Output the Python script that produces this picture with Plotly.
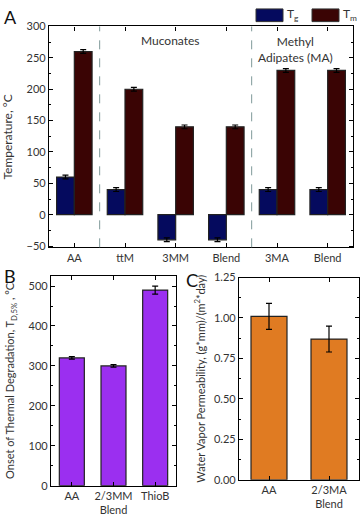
import plotly.graph_objects as go

# ---- Data ----
a_labels = ["AA", "ttM", "3MM", "Blend", "3MA", "Blend"]
a_tg = [60, 40, -40, -40, 40, 40]
a_tg_err = [3, 3, 3, 3, 3, 3]
a_tm = [260, 200, 140, 140, 230, 230]
a_tm_err = [3, 3, 3, 3, 3, 3]

b_labels = ["AA", "2/3MM<br>Blend", "ThioB"]
b_vals = [320, 300, 490]
b_err = [3, 3, 10]

c_labels = ["AA", "2/3MA<br>Blend"]
c_vals = [1.01, 0.87]
c_err = [0.08, 0.08]

series_names = ["T<sub>g</sub>", "T<sub>m</sub>"]
series_colors = ["#050a5e", "#3a0404"]

FONT = "Lato"
W, H = 362, 518

def px_x(p):
    return p / W

def px_y(p):
    return 1 - p / H

fig = go.Figure()

err_style = dict(type="data", color="black", thickness=1.2, width=3)
line_style = dict(color="#222222", width=1.2)

xa = list(range(len(a_labels)))
fig.add_trace(go.Bar(x=xa, y=a_tg, name=series_names[0], showlegend=False,
                     marker=dict(color=series_colors[0], line=line_style),
                     error_y=dict(array=a_tg_err, **err_style), xaxis="x", yaxis="y"))
fig.add_trace(go.Bar(x=xa, y=a_tm, name=series_names[1], showlegend=False,
                     marker=dict(color=series_colors[1], line=line_style),
                     error_y=dict(array=a_tm_err, **err_style), xaxis="x", yaxis="y"))

xb = list(range(len(b_labels)))
fig.add_trace(go.Bar(x=xb, y=b_vals, showlegend=False, width=0.6,
                     marker=dict(color="#9b2ff0", line=line_style),
                     error_y=dict(array=b_err, **err_style), xaxis="x2", yaxis="y2"))

xc = list(range(len(c_labels)))
fig.add_trace(go.Bar(x=xc, y=c_vals, showlegend=False, width=0.6,
                     marker=dict(color="#e07b22", line=line_style),
                     error_y=dict(array=c_err, **err_style), xaxis="x3", yaxis="y3"))

axis_common = dict(showline=True, linecolor="black", linewidth=1.2, mirror="ticks",
                   ticks="inside", ticklen=4, tickcolor="black", showgrid=False, zeroline=False,
                   tickfont=dict(family=FONT, size=11, color="#333"))

fig.update_layout(
    width=W, height=H, autosize=False,
    margin=dict(l=0, r=0, t=0, b=0),
    paper_bgcolor="white", plot_bgcolor="white",
    barmode="group", bargap=0.3, bargroupgap=0,
    font=dict(family=FONT, size=11, color="#333"),
    showlegend=False,
    xaxis=dict(domain=[px_x(49), px_x(353)], range=[-0.5, 5.5], tickvals=xa, ticktext=a_labels,
               anchor="y", **axis_common),
    yaxis=dict(domain=[px_y(246.5), px_y(20)], range=[-52, 300], dtick=50, anchor="x",
               minor=dict(ticks="inside", ticklen=2, dtick=25, tickcolor="black"),
               title=dict(text="Temperature, °C", standoff=14, font=dict(family=FONT, size=12)),
               **axis_common),
    xaxis2=dict(domain=[px_x(51), px_x(176)], range=[-0.5, 2.5], tickvals=xb, ticktext=b_labels,
                anchor="y2", **axis_common),
    yaxis2=dict(domain=[px_y(491), px_y(276)], range=[0, 525], dtick=100, anchor="x2",
                minor=dict(ticks="inside", ticklen=2, dtick=50, tickcolor="black"),
                title=dict(text="Onset of Thermal Degradation, T<sub>D,5%</sub> , °C", standoff=11,
                           font=dict(family=FONT, size=11)),
                **axis_common),
    xaxis3=dict(domain=[px_x(239), px_x(359)], range=[-0.5, 1.5], tickvals=xc, ticktext=c_labels,
                anchor="y3", **axis_common),
    yaxis3=dict(domain=[px_y(485), px_y(277.5)], range=[0, 1.25], dtick=0.25, tickformat=".2f",
                anchor="x3",
                minor=dict(ticks="inside", ticklen=2, dtick=0.125, tickcolor="black"),
                title=dict(text="Water Vapor Permeability, (g*mm)/(m<sup>2</sup>*day)", standoff=6,
                           font=dict(family=FONT, size=11)),
                **axis_common),
)

for xv in [0.5, 3.5]:
    fig.add_shape(type="line", xref="x", yref="y domain", x0=xv, x1=xv, y0=0, y1=1,
                  line=dict(color="#7f9a9a", width=1, dash="dash"))

# custom legend (wide swatches as in the reference)
for name, color, x0 in zip(series_names, series_colors, [256, 312]):
    fig.add_shape(type="rect", xref="paper", yref="paper",
                  x0=px_x(x0), x1=px_x(x0 + 27), y0=px_y(15), y1=px_y(2),
                  fillcolor=color, line=dict(color="#333", width=1))
    fig.add_annotation(x=px_x(x0 + 29), y=px_y(8), xref="paper", yref="paper", text=name,
                       showarrow=False, xanchor="left", yanchor="middle",
                       font=dict(family=FONT, size=12))

fig.add_annotation(x=1.9, y=277, xref="x", yref="y", text="Muconates", showarrow=False,
                   font=dict(family=FONT, size=12))
fig.add_annotation(x=4.37, y=263, xref="x", yref="y", text="Methyl<br>Adipates (MA)", showarrow=False,
                   font=dict(family=FONT, size=12))

for lbl, xp, yp in [("A", 10, 10), ("B", 10, 276), ("C", 192, 280)]:
    fig.add_annotation(x=px_x(xp), y=px_y(yp), xref="paper", yref="paper", text=lbl, showarrow=False,
                       font=dict(family=FONT, size=18, color="#111"), xanchor="center", yanchor="middle")

fig.write_html("out.html", config={"displayModeBar": False},
               post_script="document.body.style.margin='0px';document.body.style.overflow='hidden';")
